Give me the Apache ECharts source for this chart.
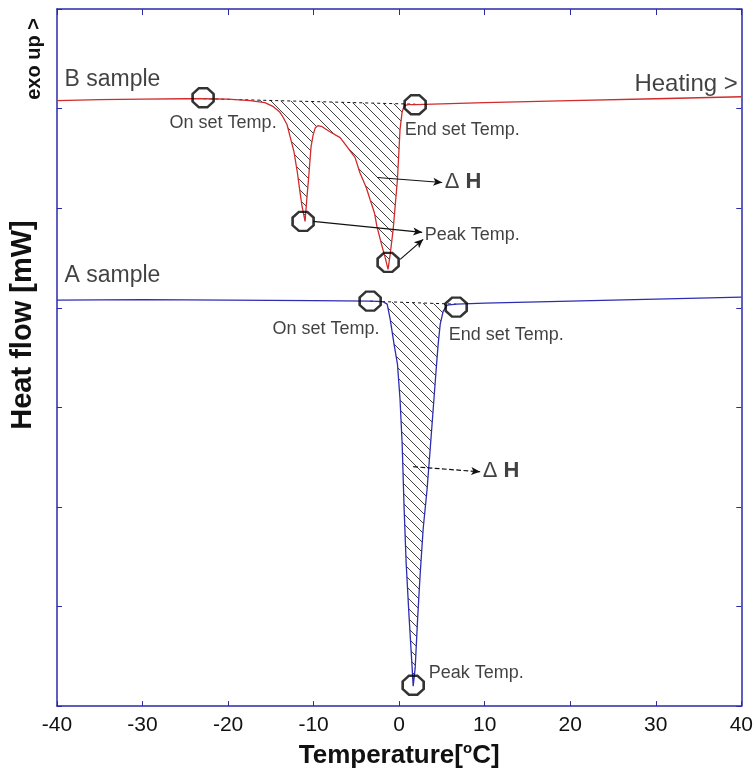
<!DOCTYPE html>
<html>
<head>
<meta charset="utf-8">
<script src="https://cdn.jsdelivr.net/npm/echarts@6/dist/echarts.min.js"></script>
<style>
html, body { margin: 0; padding: 0; background: #fff; }
#main { width: 756px; height: 774px; }
</style>
</head>
<body>
<div id="main"></div>
<script>
// DSC curves: temperature [°C] vs heat flow (arbitrary units, exo up)
var bTemp = [-40, -35, -30, -25, -22.9, -20, -17.4, -15.7, -14.7, -14.0, -13.6, -13.1, -12.75, -12.3, -11.9,
             -11.6, -11.35, -11.0, -10.8, -10.6, -10.3, -10.05, -9.8, -9.5, -9.0, -8.1, -6.9, -6.1, -5.15, -4.6,
             -3.85, -3.4, -2.9, -2.6, -2.0, -1.64, -1.3, -1.05, -0.7, -0.2, 0.1, 0.35, 0.6, 1.05, 1.9,
             10, 20, 30, 40];
var bFlow = [6.079, 6.089, 6.094, 6.099, 6.099, 6.094, 6.079, 6.059, 6.019, 5.969, 5.918, 5.838, 5.718, 5.568, 5.358,
             5.167, 5.017, 4.867, 5.087, 5.288, 5.618, 5.738, 5.808, 5.828, 5.818, 5.768, 5.708, 5.618, 5.508, 5.358,
             5.207, 5.087, 4.957, 4.817, 4.617, 4.506, 4.386, 4.536, 4.787, 5.288, 5.788, 5.969, 6.029, 6.039, 6.039,
             6.059, 6.079, 6.099, 6.119];

var aTemp = [-40, -30, -20, -10, -3.4, -1.9, -1.4, -1.05, -0.6, -0.2, 0.1, 0.35, 0.58, 0.82, 1.17, 1.52, 1.64,
             1.87, 2.16, 2.46, 2.81, 3.27, 3.63, 3.98, 4.33, 4.56, 4.8, 5.15, 5.61, 6.67, 10, 20, 30, 40];
var aFlow = [4.076, 4.081, 4.076, 4.071, 4.066, 4.061, 4.036, 3.886, 3.635, 3.435, 3.084, 2.634, 1.983, 1.432, 0.881, 0.381, 0.2,
             0.381, 0.881, 1.332, 1.783, 2.183, 2.584, 2.984, 3.385, 3.635, 3.836, 3.966, 4.026, 4.036, 4.046, 4.066, 4.086, 4.106];

// onset -> endset baselines
var bBase = [[-22.9, 6.099], [1.9, 6.044]];
var aBase = [[-3.4, 4.066], [6.67, 4.036]];

// onset / endset / peak markers
var markPts = [[-22.92, 6.109], [1.87, 6.039], [-11.23, 4.867], [-1.29, 4.456],
               [-3.39, 4.066], [6.67, 4.006], [1.64, 0.21]];

// annotations
var noteText = ['B sample', 'A sample', 'Heating >', 'On set Temp.', 'End set Temp.', 'Peak Temp.', 'dH',
                'On set Temp.', 'End set Temp.', 'dH', 'Peak Temp.'];
var notePos = [[-39.06, 6.289], [-39.06, 4.316], [39.65, 6.239], [-26.78, 5.848], [0.70, 5.783], [3.04, 4.722],
               [5.38, 5.263], [-14.74, 3.785], [5.85, 3.72], [9.82, 2.358], [3.51, 0.33]];

var arrows = [
  [[-2.57, 5.308], [5.03, 5.258], 'solid'],
  [[-10.06, 4.867], [2.69, 4.757], 'solid'],
  [[0.12, 4.486], [2.81, 4.687], 'solid'],
  [[1.64, 2.404], [9.47, 2.353], 'dashed']
];

var FONT = '"Liberation Sans", Arial, sans-serif';

function pairs(xs, ys) {
  return xs.map(function (x, i) { return [x, ys[i]]; });
}

// curve between onset and endset, closed back along the baseline
function fillPoly(xs, ys, base) {
  var pts = [];
  xs.forEach(function (t, i) {
    if (t >= base[0][0] - 1e-9 && t <= base[1][0] + 1e-9) pts.push([t, ys[i]]);
  });
  pts.push(base[1], base[0]);
  return pts;
}

function hatch() {
  var c = document.createElement('canvas');
  c.width = 10; c.height = 10;
  var g = c.getContext('2d');
  g.strokeStyle = '#2a2a2a';
  g.lineWidth = 0.9;
  g.beginPath();
  g.moveTo(-1, -1); g.lineTo(11, 11);
  g.moveTo(-1, 9); g.lineTo(1, 11);
  g.moveTo(9, -1); g.lineTo(11, 1);
  g.stroke();
  return c;
}

var pattern = { image: hatch(), repeat: 'repeat' };
var bPoly = fillPoly(bTemp, bFlow, bBase);
var aPoly = fillPoly(aTemp, aFlow, aBase);

function fillSeries(poly) {
  return {
    type: 'custom', data: [poly[0]], z: 1, silent: true,
    renderItem: function (params, api) {
      return {
        type: 'polygon',
        shape: { points: poly.map(function (p) { return api.coord(p); }) },
        style: { fill: pattern, stroke: null }
      };
    }
  };
}

var frame = '#2a2aa8';

var labelStyle = {
  'B sample': { fontSize: 23, align: 'left' },
  'A sample': { fontSize: 23, align: 'left' },
  'Heating >': { fontSize: 24, align: 'right' }
};

var notes = noteText.map(function (txt, i) {
  var st = labelStyle[txt] || { fontSize: 18, align: 'left' };
  var lab = {
    show: true, position: [0, 0], align: st.align, verticalAlign: 'middle',
    fontSize: st.fontSize, fontFamily: FONT, color: '#111'
  };
  if (txt === 'dH') {
    lab.formatter = '{d|\u0394 }{h|H}';
    lab.rich = {
      d: { fontSize: 22, fontFamily: FONT, color: '#111' },
      h: { fontSize: 22, fontWeight: 'bold', fontFamily: FONT, color: '#111' }
    };
  } else {
    lab.formatter = txt;
  }
  return { value: notePos[i], label: lab };
});

var chart = echarts.init(document.getElementById('main'));
chart.setOption({
  animation: false,
  backgroundColor: '#fff',
  grid: { left: 57, right: 14, top: 9, bottom: 66 },
  xAxis: [
    {
      type: 'value', min: -40, max: 40, interval: 10, position: 'bottom',
      axisLine: { onZero: false, lineStyle: { color: frame, width: 1.5 } },
      axisTick: { inside: true, length: 5, lineStyle: { color: frame } },
      splitLine: { show: false },
      axisLabel: { fontSize: 21, color: '#111', fontFamily: FONT, margin: 9 },
      name: '{a|Temperature[}{s|o}{a|C]}',
      nameLocation: 'middle', nameGap: 30,
      nameTextStyle: {
        rich: {
          a: { fontSize: 26, fontWeight: 'bold', fontFamily: FONT, color: '#111', lineHeight: 30 },
          s: { fontSize: 15, fontWeight: 'bold', fontFamily: FONT, color: '#111', lineHeight: 14, verticalAlign: 'top' }
        }
      }
    },
    {
      type: 'value', min: -40, max: 40, interval: 10, position: 'top',
      axisLine: { onZero: false, lineStyle: { color: frame, width: 1.5 } },
      axisTick: { inside: true, length: 6, lineStyle: { color: frame } },
      splitLine: { show: false }, axisLabel: { show: false }
    }
  ],
  yAxis: [
    {
      type: 'value', min: 0, max: 7, interval: 1, position: 'left',
      axisLine: { show: true, onZero: false, lineStyle: { color: frame, width: 1.5 } },
      axisTick: { show: true, inside: true, length: 5, lineStyle: { color: frame } },
      splitLine: { show: false }, axisLabel: { show: false }
    },
    {
      type: 'value', min: 0, max: 7, interval: 1, position: 'right',
      axisLine: { show: true, onZero: false, lineStyle: { color: frame, width: 1.5 } },
      axisTick: { show: true, inside: true, length: 5, lineStyle: { color: frame } },
      splitLine: { show: false }, axisLabel: { show: false }
    }
  ],
  graphic: [
    {
      type: 'text', x: 23, y: 325, rotation: Math.PI / 2,
      style: {
        text: 'Heat flow [mW]', font: 'bold 29px ' + FONT, fill: '#111',
        align: 'center', verticalAlign: 'middle', textAlign: 'center', textVerticalAlign: 'middle'
      }
    },
    {
      type: 'text', x: 34, y: 59, rotation: Math.PI / 2,
      style: {
        text: 'exo up >', font: 'bold 20px ' + FONT, fill: '#111',
        align: 'center', verticalAlign: 'middle', textAlign: 'center', textVerticalAlign: 'middle'
      }
    }
  ],
  series: [
    fillSeries(bPoly),
    fillSeries(aPoly),
    {
      type: 'line', data: bBase, symbol: 'none', z: 2, silent: true,
      lineStyle: { color: '#111', width: 1, type: [3, 3] }
    },
    {
      type: 'line', data: aBase, symbol: 'none', z: 2, silent: true,
      lineStyle: { color: '#111', width: 1, type: [3, 3] }
    },
    {
      name: 'B sample', type: 'line', data: pairs(bTemp, bFlow), symbol: 'none', z: 3,
      lineStyle: { color: '#d12b2b', width: 1.3 }
    },
    {
      name: 'A sample', type: 'line', data: pairs(aTemp, aFlow), symbol: 'none', z: 3,
      lineStyle: { color: '#2d2db3', width: 1.3 }
    },
    {
      type: 'scatter', data: markPts, z: 4, silent: true,
      symbol: 'path://M3,0L7,0L10,3L10,7L7,10L3,10L0,7L0,3Z',
      symbolSize: [21, 19], symbolKeepAspect: false,
      itemStyle: { color: 'rgba(0,0,0,0)', borderColor: '#000', borderWidth: 2.5 }
    },
    {
      type: 'scatter', data: notes, z: 5, silent: true, symbolSize: 1,
      itemStyle: { color: 'rgba(0,0,0,0)' },
      markLine: {
        silent: true, animation: false,
        symbol: ['none', 'arrow'], symbolSize: [6, 9],
        label: { show: false },
        lineStyle: { color: '#111', width: 1.2 },
        data: arrows.map(function (a) {
          return [
            { coord: a[0], lineStyle: { type: a[2], color: '#111', width: 1.2 } },
            { coord: a[1] }
          ];
        })
      }
    }
  ]
});
</script>
</body>
</html>
